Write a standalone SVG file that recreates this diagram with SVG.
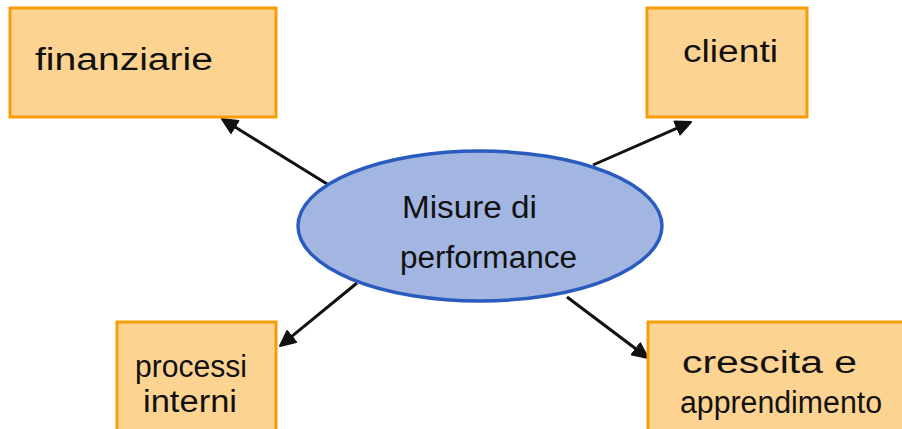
<svg xmlns="http://www.w3.org/2000/svg" width="902" height="429" viewBox="0 0 902 429">
  <style>
    .box { fill: #fdd391; stroke: #f79d0a; stroke-width: 3; }
    .hub { fill: #a2b6e1; stroke: #2a5cc0; stroke-width: 3.5; }
    .label { font-family: "Liberation Sans", Arial, sans-serif; font-size: 31px; fill: #111; }
    .link { stroke: #111; stroke-width: 3; fill: none; marker-end: url(#head); }
  </style>
  <defs>
    <marker id="head" markerUnits="userSpaceOnUse" markerWidth="20" markerHeight="18" refX="4" refY="8" orient="auto">
      <path d="M1,1 L16,8 L1,15 z" fill="#111" stroke="#111" stroke-width="2" stroke-linejoin="round"/>
    </marker>
  </defs>
  <rect width="902" height="429" fill="#ffffff"/>

  <g id="connectors">
    <line class="link" x1="332" y1="187" x2="232.2" y2="125.3"/>
    <line class="link" x1="593" y1="165" x2="680" y2="126.8"/>
    <line class="link" x1="357" y1="283" x2="289.3" y2="338.4"/>
    <line class="link" x1="567" y1="297" x2="638.4" y2="350.8"/>
  </g>

  <g id="finanziarie">
    <rect class="box" x="10" y="8" width="266" height="109"/>
    <text class="label" x="35" y="70" textLength="178" lengthAdjust="spacingAndGlyphs">finanziarie</text>
  </g>

  <g id="clienti">
    <rect class="box" x="647" y="8" width="160" height="109"/>
    <text class="label" x="683" y="62" textLength="95" lengthAdjust="spacingAndGlyphs">clienti</text>
  </g>

  <g id="misure">
    <ellipse class="hub" cx="480" cy="226" rx="182" ry="75"/>
    <text class="label" x="402" y="218" textLength="135" lengthAdjust="spacingAndGlyphs">Misure di</text>
    <text class="label" x="400" y="268" textLength="177" lengthAdjust="spacingAndGlyphs">performance</text>
  </g>

  <g id="processi">
    <rect class="box" x="117" y="322" width="159" height="120"/>
    <text class="label" x="135" y="377" textLength="112" lengthAdjust="spacingAndGlyphs">processi</text>
    <text class="label" x="143" y="412" textLength="94" lengthAdjust="spacingAndGlyphs">interni</text>
  </g>

  <g id="crescita">
    <rect class="box" x="648" y="322" width="270" height="120"/>
    <text class="label" x="682" y="373" textLength="175" lengthAdjust="spacingAndGlyphs">crescita  e</text>
    <text class="label" x="680" y="413" textLength="202" lengthAdjust="spacingAndGlyphs">apprendimento</text>
  </g>
</svg>
